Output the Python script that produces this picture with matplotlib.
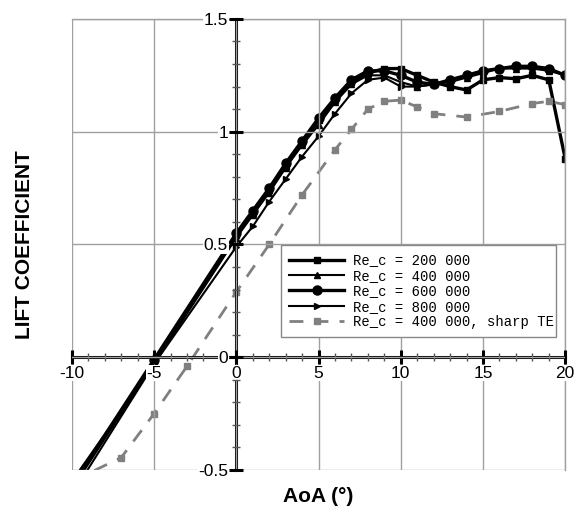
import matplotlib
matplotlib.use("Agg")
import matplotlib.pyplot as plt
from matplotlib.ticker import MultipleLocator, FuncFormatter

plt.rcParams['font.family'] = ['Liberation Sans', 'DejaVu Sans']
plt.rcParams['axes.unicode_minus'] = False

# ---- data ----
aoa = [-10, -5, 0, 1, 2, 3, 4, 5, 6, 7, 8, 9, 10, 11, 12, 13, 14, 15, 16, 17, 18, 19, 20]
cl_200k = [-0.58, -0.02, 0.54, 0.64, 0.74, 0.85, 0.95, 1.05, 1.14, 1.22, 1.26, 1.28, 1.28, 1.25,
           1.22, 1.20, 1.185, 1.23, 1.24, 1.235, 1.25, 1.23, 0.88]
cl_400k = [-0.61, -0.03, 0.53, 0.63, 0.73, 0.84, 0.94, 1.03, 1.13, 1.21, 1.25, 1.25, 1.22, 1.20,
           1.21, 1.22, 1.24, 1.26, 1.28, 1.28, 1.28, 1.27, 1.25]
cl_600k = [-0.57, -0.01, 0.55, 0.65, 0.75, 0.86, 0.96, 1.06, 1.15, 1.23, 1.27, 1.27, 1.25, 1.22,
           1.21, 1.23, 1.25, 1.27, 1.28, 1.29, 1.29, 1.28, 1.25]
cl_800k = [-0.55, -0.03, 0.49, 0.58, 0.69, 0.79, 0.89, 0.98, 1.08, 1.17, 1.23, 1.24, 1.20, 1.20,
           1.21, 1.23, 1.25, 1.27, 1.28, 1.29, 1.29, 1.28, 1.25]
aoa_sharp = [-10, -7, -5, -3, 0, 2, 4, 6, 7, 8, 9, 10, 11, 12, 14, 16, 18, 19, 20]
cl_sharp = [-0.55, -0.445, -0.25, -0.04, 0.29, 0.50, 0.72, 0.92, 1.01, 1.10, 1.135, 1.14, 1.11,
            1.08, 1.065, 1.09, 1.125, 1.135, 1.12]
labels = ["Re_c = 200 000", "Re_c = 400 000", "Re_c = 600 000", "Re_c = 800 000",
          "Re_c = 400 000, sharp TE"]
xticks = [-10, -5, 0, 5, 10, 15, 20]
yticks = [-0.5, 0, 0.5, 1, 1.5]

fig = plt.figure(figsize=(5.75, 5.12), dpi=100)
ax = fig.add_axes([0.125, 0.082, 0.858, 0.881])

ax.plot(aoa, cl_200k, color='black', lw=2.4, marker='s', ms=4.5, label=labels[0])
ax.plot(aoa, cl_400k, color='black', lw=1.5, marker='^', ms=4.5, label=labels[1])
ax.plot(aoa, cl_600k, color='black', lw=2.4, marker='o', ms=6.5, label=labels[2])
ax.plot(aoa, cl_800k, color='black', lw=1.5, marker='>', ms=4.5, label=labels[3])
ax.plot(aoa_sharp, cl_sharp, color='#808080', lw=2.0, ls=(0, (5, 4)), marker='s', ms=4,
        label=labels[4])

ax.set_xlim(-10, 20)
ax.set_ylim(-0.5, 1.5)
ax.set_xticks(xticks)
ax.set_yticks(yticks)
ax.xaxis.set_minor_locator(MultipleLocator(1))
ax.yaxis.set_minor_locator(MultipleLocator(0.1))
ax.yaxis.set_major_formatter(FuncFormatter(lambda v, p: '%g' % v))
ax.xaxis.set_major_formatter(FuncFormatter(lambda v, p: '%g' % v))

ax.grid(True, which='major', color='#a0a0a0', lw=1.0)
ax.set_axisbelow(False)

ax.spines['left'].set_position(('data', 0))
ax.spines['bottom'].set_position(('data', 0))
for s in ['left', 'bottom']:
    ax.spines[s].set_linewidth(2.2)
    ax.spines[s].set_color('black')
for s in ['top', 'right']:
    ax.spines[s].set_color('#a0a0a0')
    ax.spines[s].set_linewidth(1.0)

ax.tick_params(which='major', direction='inout', length=10, width=2.2, color='black',
               labelsize=12.5, pad=0)
ax.tick_params(which='minor', direction='inout', length=6, width=1.0, color='#555555')
ax.tick_params(axis='x', which='major', pad=1)
ax.tick_params(axis='y', which='major', pad=1)

for t in ax.get_xticklabels() + ax.get_yticklabels():
    t.set_bbox(dict(facecolor='white', edgecolor='none', pad=0.5))

ax.set_xlabel('AoA (°)', fontsize=15, fontweight='bold')
ax.set_ylabel('LIFT COEFFICIENT', fontsize=15, fontweight='bold')
ax.xaxis.set_label_coords(0.5, -0.037)
ax.yaxis.set_label_coords(-0.077, 0.5)

leg = ax.legend(loc='lower left', bbox_to_anchor=(0.423, 0.294, 0.559, 0.197), mode='expand',
                prop={'family': 'Liberation Mono', 'size': 10}, frameon=True, fancybox=False,
                edgecolor='#888888', framealpha=1, borderaxespad=0, handlelength=4.0,
                labelspacing=0.1, handletextpad=0.6, borderpad=0.6)
leg.get_frame().set_linewidth(1.0)

fig.savefig('out.png', dpi=100)
